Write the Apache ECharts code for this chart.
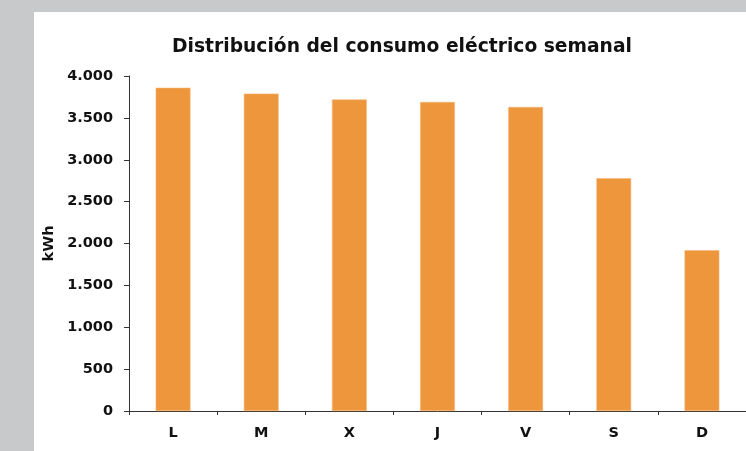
<!DOCTYPE html>
<html>
<head>
<meta charset="utf-8">
<script src="https://cdn.jsdelivr.net/npm/echarts@6/dist/echarts.min.js"></script>
<style>
  html, body { margin: 0; padding: 0; background: #c8c9cb; }
  #main { width: 746px; height: 451px; }
</style>
</head>
<body>
<div id="main"></div>
<script>
// dias de la semana y consumo (kWh)
var dias = ['L', 'M', 'X', 'J', 'V', 'S', 'D'];
var consumo = [3860, 3790, 3720, 3690, 3630, 2780, 1920];

var chart = echarts.init(document.getElementById('main'));

var fuente = '"DejaVu Sans", Arial, sans-serif';

function miles(v) {
  return String(v).replace(/\B(?=(\d{3})+(?!\d))/g, '.');
}

var option = {
  backgroundColor: '#c8c9cb',
  animation: false,
  textStyle: { fontFamily: fuente },
  graphic: [{
    type: 'rect',
    left: 34,
    top: 12,
    shape: { width: 712, height: 439 },
    style: { fill: '#ffffff' },
    z: -10
  }],
  title: {
    text: 'Distribución del consumo eléctrico semanal',
    left: 397,
    textAlign: 'center',
    top: 33,
    textStyle: {
      color: '#111',
      fontSize: 18.7,
      fontWeight: 'bold',
      fontFamily: fuente
    }
  },
  grid: {
    left: 129,
    top: 76,
    right: -3,
    bottom: 40
  },
  xAxis: {
    type: 'category',
    data: dias,
    axisLine: { lineStyle: { color: '#333', width: 1 } },
    axisTick: { show: true, length: 4, lineStyle: { color: '#333' } },
    axisLabel: {
      margin: 15,
      color: '#111',
      fontSize: 14.5,
      fontWeight: 'bold',
      fontFamily: fuente
    }
  },
  yAxis: {
    type: 'value',
    min: 0,
    max: 4000,
    interval: 500,
    name: 'kWh',
    nameLocation: 'middle',
    nameGap: 72,
    nameRotate: 90,
    nameTextStyle: {
      color: '#111',
      fontSize: 14.5,
      fontWeight: 'bold',
      fontFamily: fuente
    },
    splitLine: { show: false },
    axisLine: { show: true, lineStyle: { color: '#333', width: 1 } },
    axisTick: { show: true, length: 5, lineStyle: { color: '#333' } },
    axisLabel: {
      margin: 16,
      color: '#111',
      fontSize: 14.5,
      fontWeight: 'bold',
      fontFamily: fuente,
      formatter: miles
    }
  },
  series: [{
    type: 'bar',
    data: consumo,
    barWidth: '39.5%',
    itemStyle: {
      color: '#ed963b',
      borderColor: '#f7b677',
      borderWidth: 0.6
    }
  }]
};

chart.setOption(option);
</script>
</body>
</html>
